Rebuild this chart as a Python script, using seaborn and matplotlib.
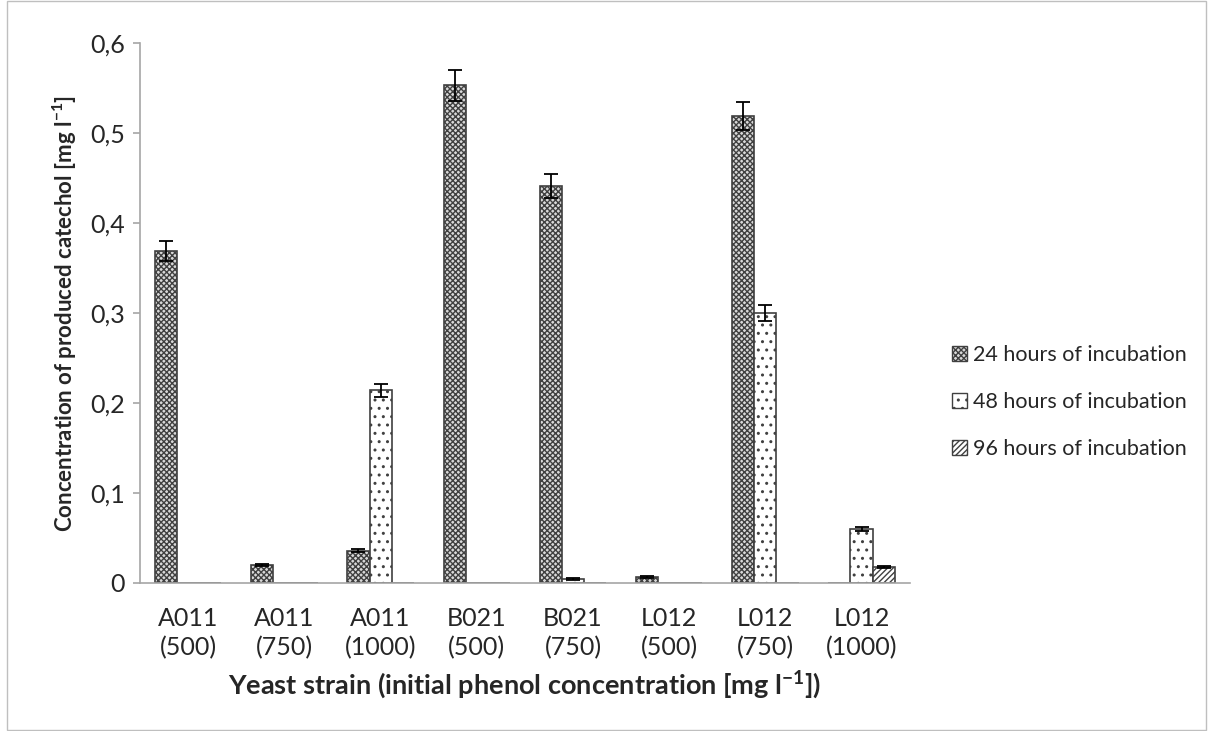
import numpy as np
import pandas as pd
import seaborn as sns
import matplotlib.pyplot as plt
from matplotlib.patches import Patch

# values
strains = ['A011\n(500)', 'A011\n(750)', 'A011\n(1000)', 'B021\n(500)',
           'B021\n(750)', 'L012\n(500)', 'L012\n(750)', 'L012\n(1000)']
times = ['24 hours of incubation', '48 hours of incubation', '96 hours of incubation']
h24 = [0.369, 0.020, 0.036, 0.553, 0.441, 0.007, 0.519, 0.0]
h48 = [0.0, 0.0, 0.214, 0.0, 0.004, 0.0, 0.300, 0.060]
h96 = [0.0, 0.0, 0.0, 0.0, 0.0, 0.0, 0.0, 0.018]
e24 = [0.011, 0.001, 0.002, 0.017, 0.013, 0.001, 0.016, 0.0]
e48 = [0.0, 0.0, 0.007, 0.0, 0.001, 0.0, 0.009, 0.002]
e96 = [0.0, 0.0, 0.0, 0.0, 0.0, 0.0, 0.0, 0.001]

df = pd.DataFrame({
    'strain': strains * 3,
    'time': [t for t in times for _ in strains],
    'value': h24 + h48 + h96,
})
errs = [e24, e48, e96]

sns.set_style('white')
plt.rcParams['font.family'] = ['Lato', 'DejaVu Sans']
plt.rcParams['mathtext.fontset'] = 'custom'
plt.rcParams['mathtext.rm'] = 'Lato'
plt.rcParams['mathtext.bf'] = 'Lato:bold'
plt.rcParams['hatch.linewidth'] = 1.0

fig = plt.figure(figsize=(12.08, 7.31), dpi=100)
ax = fig.add_axes([0.116, 0.2025, 0.637, 0.7385])

sns.barplot(data=df, x='strain', y='value', hue='time', errorbar=None,
            width=0.69, ax=ax, legend=False)

styles = [dict(facecolor='#d9d9d9', hatch='xxxxxx'),
          dict(facecolor='white', hatch='..'),
          dict(facecolor='white', hatch='//////')]
for cont, st, er in zip(ax.containers, styles, errs):
    for bar, e in zip(cont, er):
        bar.set_facecolor(st['facecolor'])
        bar.set_hatch(st['hatch'])
        bar.set_edgecolor('#404040')
        bar.set_linewidth(1.2)
        if bar.get_height() > 0:
            ax.errorbar(bar.get_x() + bar.get_width() / 2, bar.get_height(), yerr=e,
                        color='black', capsize=5, elinewidth=1.3, capthick=1.3, fmt='none')

ax.set_ylim(0, 0.6)
ax.set_xlim(-0.5, len(strains) - 0.5)
yt = np.arange(0, 0.61, 0.1)
ax.set_yticks(yt)
ax.set_yticklabels([('%.1f' % v).replace('.', ',') if v > 0 else '0' for v in yt], fontsize=18)
ax.set_xticks(range(len(strains)))
ax.set_xticklabels(strains, fontsize=18, linespacing=1.35)
ax.set_xticks(np.arange(-0.5, len(strains), 1), minor=True)
ax.tick_params(axis='x', which='major', length=0, pad=17)
ax.tick_params(axis='x', which='minor', length=7, color='#a6a6a6', width=1.2)
ax.tick_params(axis='y', length=5, color='#a6a6a6', width=1.2, left=True, pad=6)

for s in ['top', 'right']:
    ax.spines[s].set_visible(False)
for s in ['left', 'bottom']:
    ax.spines[s].set_color('#a6a6a6')
    ax.spines[s].set_linewidth(1.2)

ax.set_ylabel(r'Concentration of produced catechol [mg l$^{\mathbf{-1}}$]',
              fontsize=16, fontweight='bold', labelpad=8)
ax.set_xlabel(r'Yeast strain (initial phenol concentration [mg l$^{\mathbf{-1}}$])',
              fontsize=19.5, fontweight='bold', labelpad=6)

handles = [Patch(facecolor=st['facecolor'], hatch=st['hatch'], edgecolor='#404040')
           for st in styles]
fig.legend(handles, times, loc='center left', bbox_to_anchor=(0.772, 0.45),
           frameon=False, fontsize=15.5, handlelength=0.7, handleheight=0.7,
           handletextpad=0.3, labelspacing=1.25)

fig.patches.append(plt.Rectangle((0.006, 0.002), 0.992, 0.996, transform=fig.transFigure,
                                 fill=False, edgecolor='#bfbfbf', linewidth=1))
fig.savefig('out.png', dpi=100)
